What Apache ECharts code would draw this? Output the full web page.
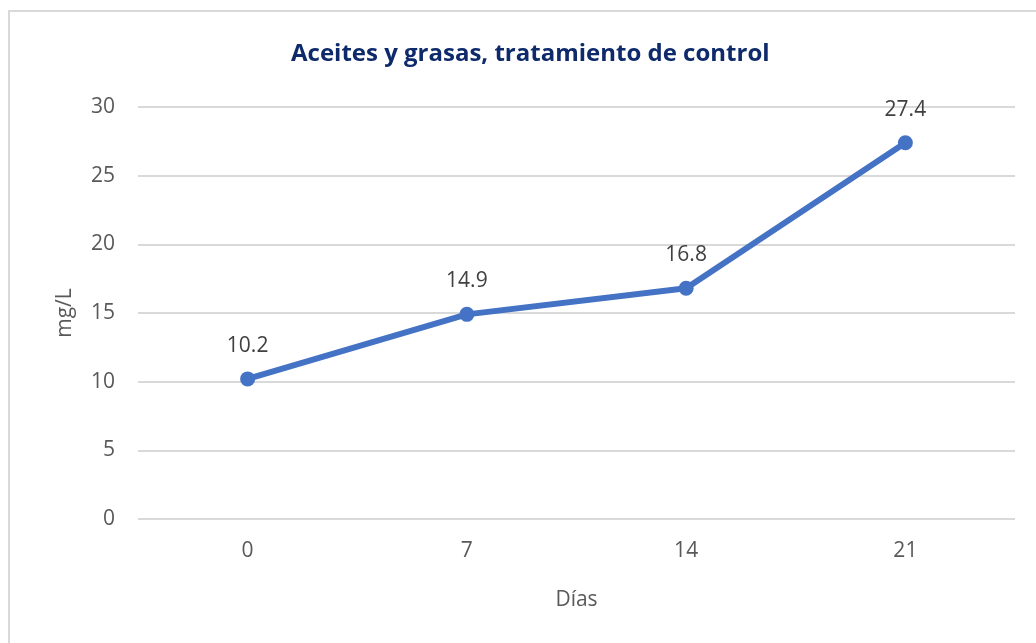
<!DOCTYPE html>
<html lang="es">
<head>
    <meta charset="UTF-8">
    <title>Aceites y grasas</title>
    <script src="https://cdn.jsdelivr.net/npm/echarts@6/dist/echarts.min.js"></script>
    <style>
        html, body { margin: 0; padding: 0; background: #fff; }
        #frame { position: absolute; left: 8px; top: 10px; width: 1040px; height: 650px; border: 2px solid #d9d9d9; box-sizing: border-box; }
        #main { position: absolute; left: 0; top: 0; width: 1036px; height: 643px; }
    </style>
</head>
<body>
    <div id="frame"></div>
    <div id="main"></div>
    <script type="text/javascript">
        // datos del gráfico
        var dias = ['0', '7', '14', '21'];
        var control = [10.2, 14.9, 16.8, 27.4];
        var titulo = 'Aceites y grasas, tratamiento de control';

        var myChart = echarts.init(document.getElementById('main'));

        var fuente = '"Open Sans", "Noto Sans", sans-serif';

        var option = {
            animation: false,
            title: {
                text: titulo,
                left: 286,
                top: 37,
                textStyle: { color: '#0e2a6b', fontSize: 24, fontWeight: 'bold', fontFamily: fuente }
            },
            grid: { left: 138, right: 21, top: 107, bottom: 124, containLabel: false },
            xAxis: {
                type: 'category',
                data: dias,
                name: 'Días',
                nameLocation: 'middle',
                nameGap: 71,
                nameTextStyle: { color: '#595959', fontSize: 21, fontFamily: fuente },
                axisLine: { show: false },
                axisTick: { show: false },
                axisLabel: { color: '#595959', fontSize: 21, fontFamily: fuente, margin: 22 }
            },
            yAxis: {
                type: 'value',
                min: 0,
                max: 30,
                interval: 5,
                name: 'mg/L',
                nameLocation: 'middle',
                nameRotate: 90,
                nameGap: 62,
                nameTextStyle: { color: '#595959', fontSize: 21, fontFamily: fuente },
                axisLine: { show: false },
                axisTick: { show: false },
                axisLabel: { color: '#595959', fontSize: 21, fontFamily: fuente, margin: 23 },
                splitLine: { lineStyle: { color: '#d9d9d9', width: 2 } }
            },
            series: [{
                type: 'line',
                data: control,
                symbol: 'circle',
                symbolSize: 15,
                lineStyle: { color: '#4472c4', width: 6 },
                itemStyle: { color: '#4472c4' },
                label: {
                    show: true,
                    position: 'top',
                    distance: 15,
                    color: '#404040',
                    fontSize: 21,
                    fontFamily: fuente
                }
            }]
        };

        myChart.setOption(option);
    </script>
</body>
</html>
